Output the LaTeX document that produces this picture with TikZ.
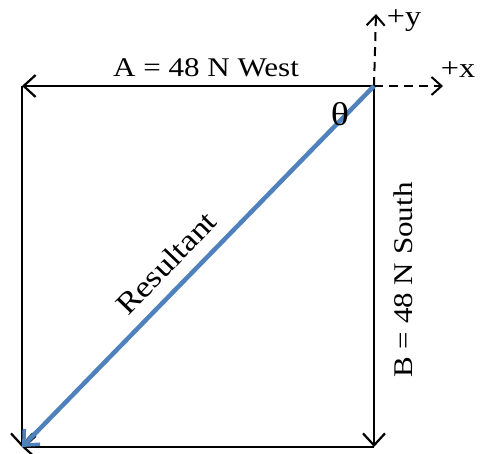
\documentclass[tikz,border=0pt]{standalone}
\usepackage{fontspec}
\setmainfont{Liberation Serif}[FakeStretch=1.15]
\usetikzlibrary{arrows.meta}
\definecolor{resblue}{RGB}{79,129,189}
\tikzset{
  vec/.style={line width=2.2pt, -{Straight Barb[length=12pt,width=22pt,line width=2.2pt]}},
  axis/.style={line width=2pt, dash pattern=on 9pt off 6pt, -{Straight Barb[length=10pt,width=18pt,line width=2pt]}},
  res/.style={line width=4.5pt, draw=resblue, -{Straight Barb[length=12pt,width=22pt,line width=3.5pt]}},
  lbl/.style={font=\fontsize{27}{32}\selectfont, inner sep=0pt},
  rlbl/.style={font=\fontsize{30}{34}\selectfont, inner sep=0pt},
  tlbl/.style={font=\fontsize{33}{36}\selectfont, inner sep=0pt},
  albl/.style={font=\fontsize{28}{32}\selectfont, inner sep=0pt}
}
\begin{document}
\begin{tikzpicture}[x=1pt,y=-1pt]
\useasboundingbox (0,0) rectangle (485,454);
\coordinate (TL) at (22,86);
\coordinate (TR) at (374,86);
\coordinate (BL) at (22,447);
\coordinate (BR) at (374,447);
\coordinate (Y) at (376,14);
\coordinate (X) at (443,86);
% axes
\draw[axis] (TR) -- (Y);
\draw[axis] (TR) -- (X);
% sides
\draw[vec] (TR) -- (TL);
\draw[vec] (TR) -- (BR);
\draw[vec] (TL) -- (BL);
\draw[vec] (BR) -- (BL);
% resultant
\draw[res] (TR) -- (BL);
% labels
\node[lbl] (lA) at (206,68) {A = 48 N West};
\node[lbl] (lB) at (403,280) [rotate=90] {B = 48 N South};
\node[rlbl] (lR) at (166,263) [rotate=46] {Resultant};
\node[tlbl] (lt) at (340,114) {θ};
\node[albl] (ly) at (404,21) {+y};
\node[albl] (lx) at (458,70) {+x};
\end{tikzpicture}
\end{document}
